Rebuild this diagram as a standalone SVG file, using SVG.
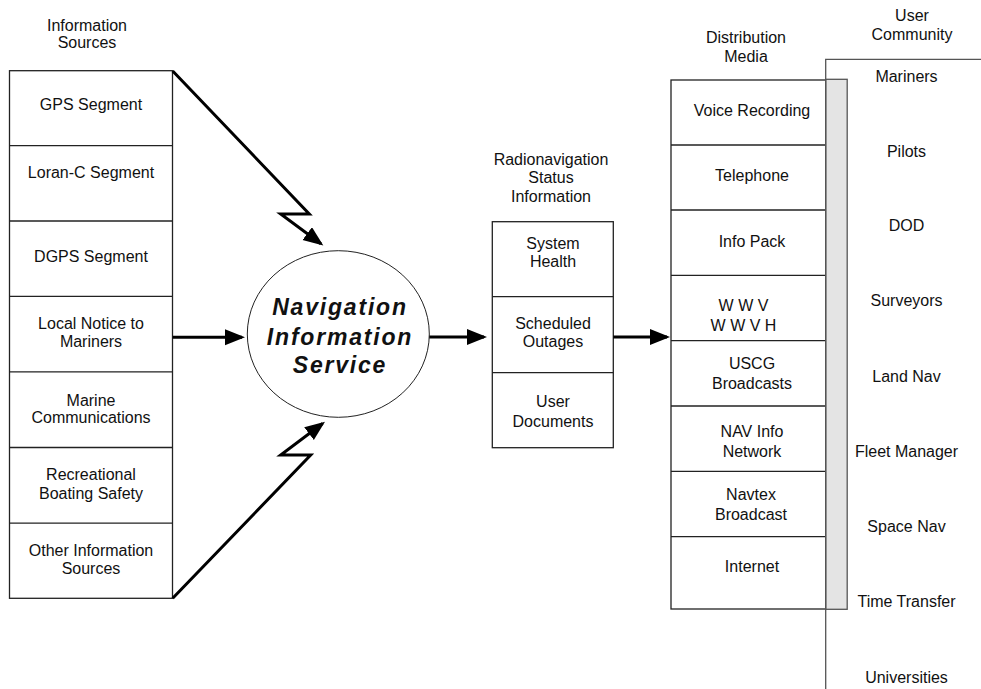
<svg xmlns="http://www.w3.org/2000/svg" width="981" height="689" viewBox="0 0 981 689">
<style>
text{font-family:"Liberation Sans",Arial,Helvetica,sans-serif;font-size:16px;fill:#111;text-anchor:middle}
.box{fill:#fff;stroke:#222;stroke-width:1.3}
.div{stroke:#222;stroke-width:1.3}
.conn{fill:none;stroke:#000;stroke-width:3;stroke-linejoin:miter}
.big{font-size:23px;font-weight:bold;font-style:italic;letter-spacing:1.8px}
.gline{stroke:#555;stroke-width:1.3;fill:none}
</style>
<defs>
<marker id="ah" markerUnits="userSpaceOnUse" markerWidth="22" markerHeight="18" refX="17" refY="8" orient="auto">
<path d="M0,0 L20,8 L0,16 Z" fill="#000"/>
</marker>
</defs>
<rect width="981" height="689" fill="#fff"/>

<g id="sources">
<text x="87" y="30.5">Information</text>
<text x="87" y="48">Sources</text>
<rect class="box" x="9.5" y="70.7" width="163" height="527.6"/>
<line class="div" x1="9.5" y1="145.7" x2="172.5" y2="145.7"/>
<line class="div" x1="9.5" y1="221" x2="172.5" y2="221"/>
<line class="div" x1="9.5" y1="296.3" x2="172.5" y2="296.3"/>
<line class="div" x1="9.5" y1="371.8" x2="172.5" y2="371.8"/>
<line class="div" x1="9.5" y1="447.5" x2="172.5" y2="447.5"/>
<line class="div" x1="9.5" y1="523.2" x2="172.5" y2="523.2"/>
<text x="91" y="110">GPS Segment</text>
<text x="91" y="178">Loran-C Segment</text>
<text x="91" y="261.5">DGPS Segment</text>
<text x="91" y="329">Local Notice to</text>
<text x="91" y="347">Mariners</text>
<text x="91" y="405.5">Marine</text>
<text x="91" y="423">Communications</text>
<text x="91" y="479.5">Recreational</text>
<text x="91" y="498.5">Boating Safety</text>
<text x="91" y="555.5">Other Information</text>
<text x="91" y="574">Sources</text>
</g>

<g id="nis">
<ellipse cx="338.3" cy="334" rx="91" ry="83.3" fill="#fff" stroke="#222" stroke-width="1"/>
<text class="big" x="340" y="314.5">Navigation</text>
<text class="big" x="340" y="344.5">Information</text>
<text class="big" x="340" y="373">Service</text>
</g>

<g id="status">
<text x="551" y="164.5">Radionavigation</text>
<text x="551" y="183">Status</text>
<text x="551" y="202">Information</text>
<rect class="box" x="492.3" y="221.7" width="121" height="226"/>
<line class="div" x1="492.3" y1="296.7" x2="613.3" y2="296.7"/>
<line class="div" x1="492.3" y1="372.7" x2="613.3" y2="372.7"/>
<text x="553" y="248.5">System</text>
<text x="553" y="267">Health</text>
<text x="553" y="328.5">Scheduled</text>
<text x="553" y="347">Outages</text>
<text x="553" y="407">User</text>
<text x="553" y="426.5">Documents</text>
</g>

<g id="media">
<text x="746" y="43">Distribution</text>
<text x="746" y="62">Media</text>
<rect class="box" x="671" y="80" width="154.7" height="529"/>
<line class="div" x1="671" y1="145" x2="825.7" y2="145"/>
<line class="div" x1="671" y1="210" x2="825.7" y2="210"/>
<line class="div" x1="671" y1="275.3" x2="825.7" y2="275.3"/>
<line class="div" x1="671" y1="340.7" x2="825.7" y2="340.7"/>
<line class="div" x1="671" y1="406" x2="825.7" y2="406"/>
<line class="div" x1="671" y1="471.3" x2="825.7" y2="471.3"/>
<line class="div" x1="671" y1="536.7" x2="825.7" y2="536.7"/>
<text x="752" y="116">Voice Recording</text>
<text x="752" y="181">Telephone</text>
<text x="752" y="246.5">Info Pack</text>
<text x="743.5" y="310.5">W W V</text>
<text x="743.5" y="330.5">W W V H</text>
<text x="752" y="369">USCG</text>
<text x="752" y="389">Broadcasts</text>
<text x="752" y="436.5">NAV Info</text>
<text x="752" y="456.5">Network</text>
<text x="751" y="500">Navtex</text>
<text x="751" y="520">Broadcast</text>
<text x="752" y="572">Internet</text>
<rect x="825.7" y="79.3" width="21.5" height="530" fill="#e4e4e4" stroke="#555" stroke-width="1.3"/>
</g>

<g id="users">
<text x="912" y="21">User</text>
<text x="912" y="40">Community</text>
<polyline class="gline" points="981,59.3 825.7,59.3 825.7,689"/>
<text x="906.5" y="81.5">Mariners</text>
<text x="906.5" y="156.5">Pilots</text>
<text x="906.5" y="231">DOD</text>
<text x="906.5" y="306">Surveyors</text>
<text x="906.5" y="382">Land Nav</text>
<text x="906.5" y="457">Fleet Manager</text>
<text x="906.5" y="532">Space Nav</text>
<text x="906.5" y="607">Time Transfer</text>
<text x="906.5" y="683">Universities</text>
</g>

<g id="connectors">
<polyline class="conn" points="172.7,71 309.3,214 280.7,214 320.9,243.7" marker-end="url(#ah)"/>
<polyline class="conn" points="172.7,337.3 242,337.3" marker-end="url(#ah)"/>
<polyline class="conn" points="172.7,598.3 310.7,455 280.7,455 322.6,423.5" marker-end="url(#ah)"/>
<polyline class="conn" points="429.3,337 484,337" marker-end="url(#ah)"/>
<polyline class="conn" points="613.3,337 667,337" marker-end="url(#ah)"/>
</g>
</svg>
